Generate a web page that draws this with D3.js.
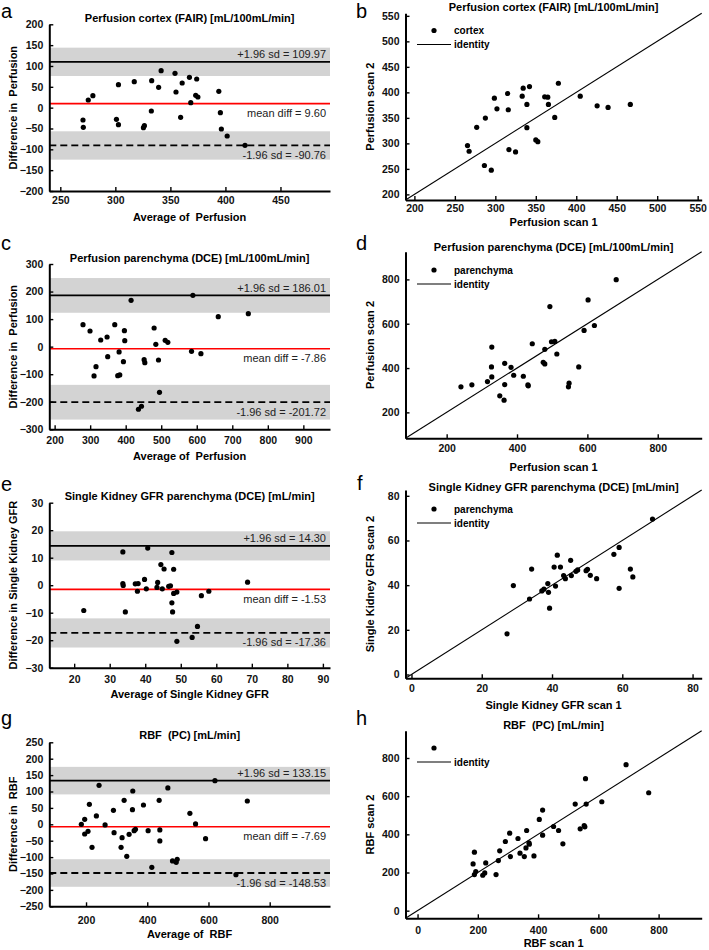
<!DOCTYPE html>
<html>
<head>
<meta charset="utf-8">
<script src="https://cdn.jsdelivr.net/npm/d3@7"></script>
<style>
body { margin: 0; background: #fff; }
svg text { font-family: "Liberation Sans", Arial, sans-serif; }
</style>
</head>
<body>
<script>
// ---- data ----

// a: Bland-Altman, perfusion cortex (FAIR)
const aAvg = [270.6,270.9,275.4,279.6,301,302.8,302.8,317.2,325.5,326.4,333,332.7,339.3,341.6,354.2,355.1,359.3,360.7,367.3,368.5,373.9,373,375,394,395.4,396.3,401.6,417.8]
const aDiff = [-29.6,-47.2,18.4,28.8,-28,-40.8,55.2,62.4,-48,-43.2,64.8,-8,48.8,88.8,82.4,37.6,-23.2,59.2,72.8,12,68.8,29.6,25.6,39.2,-12,-51.2,-68,-90.4]
const aStats = [9.60, 109.97, -90.76] // mean, +1.96 sd, -1.96 sd
const aBand = 34
const aXTicks = [250,300,350,400,450]
const aYTicks = [-200,-150,-100,-50,0,50,100,150,200]

// b: scan 1 vs scan 2, cortex
const bScan1 = [265.6,267.6,277,287.7,286.5,295,298.8,302,315.2,316,316.8,325,333.2,334.4,339,339,342.2,350,352.5,361,364.8,365.6,373.4,377.9,404.9,425.8,439.3,466.8]
const bScan2 = [295.6,284.6,331.4,349.6,256.6,247.5,388.6,367.8,397.8,365.9,287.8,283.2,392.6,408.2,376.3,330.7,411.4,306.7,303.4,391.2,390.6,376.3,350.9,417.9,392.6,373.7,370.4,376.3]
const bTicks = [200,250,300,350,400,450,500,550]

// c: Bland-Altman, perfusion parenchyma (DCE)
const cAvg = [279.9,299.6,316.5,310.9,329.7,347.6,349.4,369.2,396.4,397.4,381.4,393.6,377.6,383.3,415.2,435.9,444.4,451.9,453.8,480,484.8,492.3,495.1,511.1,518.6,585.3,589.1,611.7,660.5,745.1]
const cDiff = [79.8,56.8,-72.6,-106.4,24.2,35.1,-36.3,79.8,58,21.8,-19.3,-54.4,-105.2,-102.8,168,-227.3,-216.4,-47.2,-58,67.7,8.5,-48.4,-165.7,23,15.7,-16.9,186.2,-25.4,108.8,119.7]
const cStats = [-7.86, 186.01, -201.72]
const cBand = 63
const cXTicks = [200,300,400,500,600,700,800,900]
const cYTicks = [-300,-200,-100,0,100,200,300]

// d: scan 1 vs scan 2, parenchyma perfusion
const dScan1 = [240.6,271.7,316,327.4,328.3,328.3,351,363.2,365,365,383,390.6,418,431,432,443.4,474.5,479,479,493.4,498,507.5,513.2,546.2,548,575.5,590.6,602,620,682]
const dScan2 = [315.1,324.1,339.1,405,360,494.8,274.7,255.2,325.6,421.4,403.4,367.5,363,324,319.6,509.7,425.9,418.4,484.3,677.4,518.7,520.2,463.3,315.1,331.6,405,569.6,707.3,592.1,798.7]
const dTicks = [200,400,600,800]

// e: Bland-Altman, single kidney GFR
const eAvg = [22.7,33.7,33.7,33.8,34.4,37.2,38,37.8,39.8,40.3,40.7,43.5,43.3,44.4,44.8,45.3,46.6,47.1,47.5,47.5,47.7,48,48,48.9,48.9,53.2,54.7,55.8,57.9,68.8]
const eDiff = [-9.2,12.1,0.6,-0.1,-9.7,0.5,0.6,-2.2,2.1,-1.3,13.5,1,-0.8,7.5,-1.3,5.9,-0.4,-0.2,11.9,-6.4,-9.7,5.8,-3,-2.5,-20.4,-19,-15,-3.8,-2.2,1.1]
const eStats = [-1.53, 14.30, -17.36]
const eBand = 5.3
const eXTicks = [20,30,40,50,60,70,80,90]
const eYTicks = [-30,-20,-10,0,10,20,30]

// f: scan 1 vs scan 2, single kidney GFR
const fScan1 = [27.2,29,33.6,34.2,37.1,37.7,38.8,39,39.3,40.6,41,41.5,42.4,43.3,43.8,45.3,45.5,46.8,47.3,49.7,50.1,50.9,52.7,57.6,59.1,59.1,62.3,63,68.6]
const fScan2 = [18.2,39.8,33.8,47.2,37.4,38.2,40.7,36.8,29.7,48.1,39.6,53.4,48.1,44.3,42.9,51.1,44.3,46.2,46.8,46.5,47.1,44.4,42.9,53.8,56.9,38.6,47.2,43.7,69.6]
const fTicks = [0,20,40,60,80]

// g: Bland-Altman, RBF (PC)
const gAvg = [184.7,195.6,195.6,206.5,210.9,219.6,233.8,242.5,262.2,289.5,291.6,314.5,317.8,324.4,333.1,340.7,351.6,352.7,357.1,361.5,387.6,402.9,414.9,438.9,441.1,441.1,467.3,482.5,494.5,497.8,539.3,557.8,590.5,621.1,689.8,726.9]
const gDiff = [0,15.2,-29.5,-21.3,61,-70.1,25.4,118.9,-2,42.7,-25.4,-70.1,-40.7,73.2,-97.6,-30.5,44.7,101.6,-19.3,-15.2,58.9,-19.3,-131.1,73.2,-17.3,-50.8,110.8,-111.8,-115.9,-106.7,33.5,1,-43.7,133.1,-153.5,71.1]
const gStats = [-7.69, 133.15, -148.53]
const gBand = 42
const gXTicks = [200,400,600,800]
const gYTicks = [-250,-200,-150,-100,-50,0,50,100,150,200,250]

// h: scan 1 vs scan 2, RBF
const hScan1 = [184.3,188.7,188.7,193.2,216.3,223,226.3,260.5,268.2,272.6,291.4,305.7,308,333.3,340,354.3,359.8,362,369.8,370.9,386.3,404,415,415,451.4,468,482.3,523.2,539.7,553,555.2,557.4,559.6,611.5,692,767.1]
const hScan2 = [245,306.3,189,204.8,185.5,197.8,250.3,189,262.6,313.3,362.3,406.1,283.6,378.1,301,283.6,329,420.1,355.3,348.3,287,477.9,526.9,395.6,441.1,420.1,350.1,558.4,428.8,446.3,439.4,691.4,558.4,570.6,765,617.9]
const hTicks = [0,200,400,600,800]

// ---- drawing ----
const W = 709, H = 950
const svg = d3.select('body').append('svg').attr('width', W).attr('height', H)

const FONT_TICK = '10.5px', FONT_LAB = '11px'

function axes(g, x, y, xTicks, yTicks, xPad) {
	const ax = g.append('g').attr('transform', `translate(0,${y.range()[0]})`)
		.call(d3.axisBottom(x).tickValues(xTicks).tickSizeInner(-4).tickSizeOuter(0).tickPadding(xPad))
	const ay = g.append('g').attr('transform', `translate(${x.range()[0]},0)`)
		.call(d3.axisLeft(y).tickValues(yTicks).tickSizeInner(-4).tickSizeOuter(0).tickPadding(6))
	;[ax, ay].forEach(a => {
		a.select('.domain').attr('stroke', '#000').attr('stroke-width', 2)
		a.selectAll('.tick line').attr('stroke', '#000').attr('stroke-width', 1.4)
		a.selectAll('.tick text').attr('fill', '#111').style('font-size', FONT_TICK).style('font-weight', 'bold')
			.style('font-family', '"Liberation Sans", Arial, sans-serif')
	})
}

function labels(g, p) {
	const cx = (p.left + p.right) / 2, cy = (p.top + p.bottom) / 2
	g.append('text').attr('x', cx).attr('y', p.titleY).attr('text-anchor', 'middle')
		.style('font-size', FONT_LAB).style('font-weight', 'bold').style('white-space', 'pre').text(p.title)
	g.append('text').attr('x', cx).attr('y', p.xLabY).attr('text-anchor', 'middle')
		.style('font-size', FONT_LAB).style('font-weight', 'bold').style('white-space', 'pre').text(p.xLab)
	g.append('text').attr('transform', `translate(${p.yLabX},${cy}) rotate(-90)`).attr('text-anchor', 'middle')
		.style('font-size', FONT_LAB).style('font-weight', 'bold').style('white-space', 'pre').text(p.yLab)
	g.append('text').attr('x', p.letter[1]).attr('y', p.letter[2])
		.style('font-size', '20px').text(p.letter[0])
}

function blandAltman(p) {
	const g = svg.append('g')
	const x = d3.scaleLinear().domain(p.xDom).range([p.left, p.right])
	const y = d3.scaleLinear().domain(p.yDom).range([p.bottom, p.top])
	const [mean, up, lo] = p.stats

	;[up, lo].forEach(v => {
		g.append('rect').attr('x', p.left).attr('width', p.right - p.left)
			.attr('y', y(v + p.band)).attr('height', y(v - p.band) - y(v + p.band))
			.attr('fill', '#d3d3d3')
	})
	g.append('line').attr('x1', p.left).attr('x2', p.right).attr('y1', y(up)).attr('y2', y(up))
		.attr('stroke', '#000').attr('stroke-width', 1.8)
	g.append('line').attr('x1', p.left).attr('x2', p.right).attr('y1', y(lo)).attr('y2', y(lo))
		.attr('stroke', '#000').attr('stroke-width', 1.8).attr('stroke-dasharray', '7,4')
	g.append('line').attr('x1', p.left).attr('x2', p.right).attr('y1', y(mean)).attr('y2', y(mean))
		.attr('stroke', '#ff0000').attr('stroke-width', 1.6)

	const tx = p.right - 4
	const txt = [[`+1.96 sd = ${up.toFixed(2)}`, y(up) - 3.5], [`mean diff = ${mean.toFixed(2)}`, y(mean) + 13.5], [`-1.96 sd = ${lo.toFixed(2)}`, y(lo) + 13.5]]
	txt.forEach(t => {
		g.append('text').attr('x', tx).attr('y', t[1]).attr('text-anchor', 'end')
			.style('font-size', '11px').attr('fill', '#222').text(t[0])
	})

	g.selectAll('circle.pt').data(d3.zip(p.xs, p.ys)).join('circle').attr('class', 'pt')
		.attr('cx', d => x(d[0])).attr('cy', d => y(d[1])).attr('r', 2.6).attr('fill', '#000')

	axes(g, x, y, p.xTicks, p.yTicks, p.xPad)
	labels(g, p)
}

function identityPlot(p) {
	const g = svg.append('g')
	const x = d3.scaleLinear().domain(p.dom).range([p.left, p.right])
	const y = d3.scaleLinear().domain(p.dom).range([p.bottom, p.top])

	g.append('line').attr('x1', x(p.dom[0])).attr('y1', y(p.dom[0]))
		.attr('x2', x(p.dom[1])).attr('y2', y(p.dom[1]))
		.attr('stroke', '#000').attr('stroke-width', 1.1)

	g.selectAll('circle.pt').data(d3.zip(p.xs, p.ys)).join('circle').attr('class', 'pt')
		.attr('cx', d => x(d[0])).attr('cy', d => y(d[1])).attr('r', 2.6).attr('fill', '#000')

	// legend
	g.append('circle').attr('cx', 434).attr('cy', p.legY).attr('r', 2.6).attr('fill', '#000')
	g.append('text').attr('x', 454).attr('y', p.legY + 3.5).style('font-size', '10px').style('font-weight', 'bold').text(p.legName)
	g.append('line').attr('x1', 417).attr('x2', 451).attr('y1', p.legY + 14).attr('y2', p.legY + 14)
		.attr('stroke', '#000').attr('stroke-width', 1.1)
	g.append('text').attr('x', 454).attr('y', p.legY + 17.5).style('font-size', '10px').style('font-weight', 'bold').text('identity')

	axes(g, x, y, p.ticks, p.ticks, p.xPad)
	labels(g, p)
}

const L = { left: 49.3, right: 330, yLabX: 16.7 }
const R = { left: 405.5, right: 701.7, yLabX: 374 }

blandAltman(Object.assign({}, L, {
	top: 24.3, bottom: 191, xDom: [240, 495], yDom: [-200, 200],
	xs: aAvg, ys: aDiff, stats: aStats, band: aBand, xTicks: aXTicks, yTicks: aYTicks, xPad: 6,
	title: 'Perfusion cortex (FAIR) [mL/100mL/min]', titleY: 22.3,
	xLab: 'Average of  Perfusion', xLabY: 221.3, yLab: 'Difference in  Perfusion', letter: ['a', 1, 18]
}))
identityPlot(Object.assign({}, R, {
	top: 13.3, bottom: 200, dom: [189, 555], xs: bScan1, ys: bScan2, ticks: bTicks, xPad: 5,
	legY: 30.5, legName: 'cortex',
	title: 'Perfusion cortex (FAIR) [mL/100mL/min]', titleY: 11.3,
	xLab: 'Perfusion scan 1', xLabY: 225.5, yLab: 'Perfusion scan 2', letter: ['b', 356, 18]
}))

blandAltman(Object.assign({}, L, {
	top: 264, bottom: 429.3, xDom: [185, 975], yDom: [-300, 300],
	xs: cAvg, ys: cDiff, stats: cStats, band: cBand, xTicks: cXTicks, yTicks: cYTicks, xPad: 7.5,
	title: 'Perfusion parenchyma (DCE) [mL/100mL/min]', titleY: 261.7,
	xLab: 'Average of  Perfusion', xLabY: 459.7, yLab: 'Difference in  Perfusion', letter: ['c', 1, 250]
}))
identityPlot(Object.assign({}, R, {
	top: 251.7, bottom: 438.3, dom: [83, 925], xs: dScan1, ys: dScan2, ticks: dTicks, xPad: 6.5,
	legY: 270, legName: 'parenchyma',
	title: 'Perfusion parenchyma (DCE) [mL/100mL/min]', titleY: 250.7,
	xLab: 'Perfusion scan 1', xLabY: 471.3, yLab: 'Perfusion scan 2', letter: ['d', 356, 250]
}))

blandAltman(Object.assign({}, L, {
	top: 502.7, bottom: 667.7, xDom: [13, 92], yDom: [-30, 30],
	xs: eAvg, ys: eDiff, stats: eStats, band: eBand, xTicks: eXTicks, yTicks: eYTicks, xPad: 7.5,
	title: 'Single Kidney GFR parenchyma (DCE) [mL/min]', titleY: 499.7,
	xLab: 'Average of Single Kidney GFR', xLabY: 698.3, yLab: 'Difference in Single Kidney GFR', letter: ['e', 1, 491]
}))
identityPlot(Object.assign({}, R, {
	top: 490, bottom: 678.3, dom: [-1.7, 82.6], xs: fScan1, ys: fScan2, ticks: fTicks, xPad: 6.5,
	legY: 509, legName: 'parenchyma',
	title: 'Single Kidney GFR parenchyma (DCE) [mL/min]', titleY: 490.7,
	xLab: 'Single Kidney GFR scan 1', xLabY: 709, yLab: 'Single Kidney GFR scan 2', letter: ['f', 357, 490]
}))

blandAltman(Object.assign({}, L, {
	top: 742.3, bottom: 906.3, xDom: [80, 997], yDom: [-250, 250],
	xs: gAvg, ys: gDiff, stats: gStats, band: gBand, xTicks: gXTicks, yTicks: gYTicks, xPad: 10.5,
	title: 'RBF  (PC) [mL/min]', titleY: 739,
	xLab: 'Average of  RBF', xLabY: 938, yLab: 'Difference in  RBF', letter: ['g', 1, 725]
}))
identityPlot(Object.assign({}, R, {
	top: 730.7, bottom: 918.3, dom: [-40, 943], xs: hScan1, ys: hScan2, ticks: hTicks, xPad: 8,
	legY: 748, legName: '',
	title: 'RBF  (PC) [mL/min]', titleY: 729,
	xLab: 'RBF scan 1', xLabY: 947.3, yLab: 'RBF scan 2', letter: ['h', 356, 725]
}))
</script>
</body>
</html>
